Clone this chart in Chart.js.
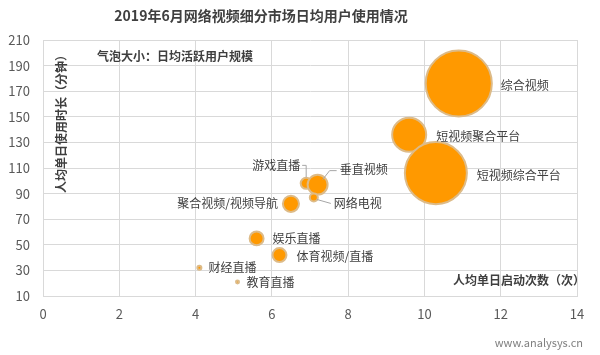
<!DOCTYPE html>
<html><head><meta charset="utf-8">
<script src="https://cdn.jsdelivr.net/npm/chart.js@4/dist/chart.umd.min.js"></script>
<style>html,body{margin:0;padding:0;background:#fff}#wrap{width:600px;height:355px}</style>
</head><body><div id="wrap"><canvas id="c" width="600" height="355"></canvas></div>
<script>
// ---- data ----
const categories = ['综合视频','短视频聚合平台','短视频综合平台','游戏直播','垂直视频','网络电视','聚合视频/视频导航','娱乐直播','体育视频/直播','财经直播','教育直播'];
const launchesPerDay = [10.9, 9.6, 10.3, 6.9, 7.2, 7.1, 6.5, 5.6, 6.2, 4.1, 5.1];
const minutesPerDay  = [176, 136, 106, 98, 97, 87, 82, 55, 42, 32, 21];
const dailyActiveUsers = [54, 14.3, 47.5, 1.5, 4.9, 0.8, 3.2, 2.4, 2.4, 0.2, 0.11]; // 百万, bubble size
const xTicks = [0,2,4,6,8,10,12,14];
const yTicks = [10,30,50,70,90,110,130,150,170,190,210];

// ---- styles / layout (not data) ----
const FONT = '"Noto Sans CJK SC","Noto Sans",sans-serif';
const radiusScale = 4.5;
const labelLayout = [
  {dx:42, dy:2, align:'left'},
  {dx:27, dy:2, align:'left'},
  {dx:41, dy:2, align:'left'},
  {dx:-6, dy:-18, align:'right', leader:[[-4,-18],[0,-18],[0,-6]]},
  {dx:22, dy:-15, align:'left', leader:[[5,-5],[12,-14],[19,-14]]},
  {dx:20, dy:6, align:'left', leader:[[3,2],[17,6]]},
  {dx:-13, dy:0, align:'right'},
  {dx:16, dy:0, align:'left'},
  {dx:17, dy:1, align:'left'},
  {dx:9, dy:0, align:'left'},
  {dx:9, dy:1, align:'left'}
];

const points = categories.map((c,i)=>({x:launchesPerDay[i], y:minutesPerDay[i], r:radiusScale*Math.sqrt(dailyActiveUsers[i])}));

const annot = {
  id:'annot',
  afterDatasetsDraw(chart){
    const ctx = chart.ctx;
    const meta = chart.getDatasetMeta(0);
    ctx.save();
    ctx.font = '12px ' + FONT;
    ctx.fillStyle = '#404040';
    ctx.textBaseline = 'middle';
    meta.data.forEach((el,i)=>{
      const L = labelLayout[i];
      if (L.leader){
        ctx.strokeStyle = '#a6a6a6'; ctx.lineWidth = 1;
        ctx.beginPath();
        L.leader.forEach((p,k)=>{ const px=el.x+p[0], py=el.y+p[1]; k?ctx.lineTo(px,py):ctx.moveTo(px,py); });
        ctx.stroke();
      }
      ctx.textAlign = L.align;
      ctx.fillText(categories[i], el.x+L.dx, el.y+L.dy);
    });
    ctx.font = 'bold 14px ' + FONT;
    ctx.fillStyle = '#3f3f3f';
    ctx.textAlign = 'center';
    ctx.fillText('2019年6月网络视频细分市场日均用户使用情况', 261, 16);
    ctx.font = 'bold 12px ' + FONT;
    ctx.textAlign = 'left';
    ctx.fillText('气泡大小：日均活跃用户规模', 97, 56);
    ctx.textAlign = 'right';
    ctx.fillText('人均单日启动次数（次）', 585, 280);
    ctx.translate(61, 121);
    ctx.rotate(-Math.PI/2);
    ctx.textAlign = 'center';
    ctx.fillText('人均单日使用时长（分钟）', 0, 0);
    ctx.restore();
    ctx.save();
    ctx.font = '11px ' + FONT;
    ctx.fillStyle = '#7f7f7f';
    ctx.textAlign = 'right';
    ctx.textBaseline = 'middle';
    ctx.fillText('www.analysys.cn', 583, 343);
    ctx.restore();
  }
};

new Chart(document.getElementById('c'), {
  type:'bubble',
  data:{ datasets:[{
    data: points,
    backgroundColor: '#FF9900',
    borderColor: '#DDBB88',
    borderWidth: 2,
    clip: false
  }]},
  options:{
    responsive:false, animation:false,
    events:[],
    layout:{autoPadding:false, padding:{left:0, right:23, top:40, bottom:29}},
    plugins:{legend:{display:false}, tooltip:{enabled:false}, title:{display:false}},
    scales:{
      x:{
        type:'linear', min:0, max:14,
        afterBuildTicks(s){ s.ticks = xTicks.map(v=>({value:v})); },
        afterFit(s){ s.height = 30; },
        grid:{color:'#d9d9d9', drawTicks:false},
        border:{color:'#d9d9d9'},
        ticks:{padding:10, color:'#595959', font:{family:FONT, size:13}}
      },
      y:{
        type:'linear', min:10, max:210,
        afterBuildTicks(s){ s.ticks = yTicks.map(v=>({value:v})); },
        afterFit(s){ s.width = 43; },
        grid:{color:'#d9d9d9', drawTicks:false},
        border:{color:'#d9d9d9'},
        ticks:{padding:13, color:'#595959', font:{family:FONT, size:13}}
      }
    }
  },
  plugins:[annot]
});
</script>
</body></html>
